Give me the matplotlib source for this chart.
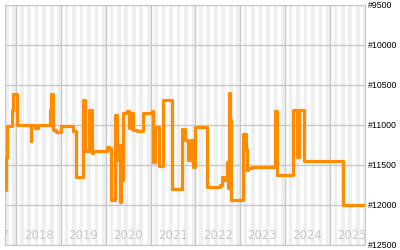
import matplotlib
matplotlib.use("Agg")
import matplotlib.pyplot as plt
import pandas as pd

# rank history (step changes), lower rank number = better
dates = ["2017-10-01", "2017-10-12", "2017-10-20", "2017-11-28", "2017-12-08",
         "2018-01-06", "2018-04-27", "2018-05-05", "2018-06-03", "2018-06-27",
         "2018-10-04", "2018-10-12", "2018-10-28", "2018-11-22", "2019-01-02",
         "2019-04-11", "2019-05-02", "2019-06-28", "2019-07-15", "2019-08-17",
         "2019-09-11", "2019-09-20", "2020-01-08", "2020-01-28", "2020-02-14",
         "2020-03-17", "2020-04-02", "2020-04-10", "2020-04-27", "2020-05-05",
         "2020-05-12", "2020-05-20", "2020-06-18", "2020-07-09", "2020-07-25",
         "2020-08-10", "2020-09-15", "2020-11-01", "2021-01-09", "2021-01-18",
         "2021-02-07", "2021-03-10", "2021-04-14", "2021-06-22", "2021-09-15",
         "2021-10-09", "2021-11-03", "2021-11-25", "2021-12-10", "2021-12-25",
         "2022-04-06", "2022-07-20", "2022-08-09", "2022-08-22", "2022-09-12",
         "2022-09-20", "2022-09-28", "2022-10-08", "2022-10-14", "2022-10-20",
         "2023-01-28", "2023-02-15", "2023-02-23", "2023-03-02", "2023-04-07",
         "2023-07-13", "2023-10-16", "2023-10-28", "2024-03-06", "2024-04-08",
         "2024-04-25", "2024-06-07", "2025-04-21", "2025-10-15"]
ranks = [11810, 11400, 11010, 10810, 10610,
         11000, 11200, 11000, 11040, 11000,
         10810, 10610, 11060, 11090, 11010,
         11070, 11650, 10690, 11320, 10810,
         11350, 11330, 11270, 11290, 11940,
         10880, 11440, 11250, 11960, 11250,
         11690, 10850, 10830, 11040, 10850,
         11060, 11070, 10855, 10830, 11460,
         11020, 11510, 10690, 11800, 11050,
         11190, 11440, 11190, 11520, 11020,
         11770, 11750, 11650, 11690, 11460,
         11790, 10600, 10710, 10940, 11940,
         11110, 11300, 11560, 11540, 11530,
         11520, 10820, 11620, 10810, 11400,
         10810, 11450, 12000, 12000]

years = list(range(2017, 2026))
y_ticks = [9500, 10000, 10500, 11000, 11500, 12000, 12500]
y_labels = ["#" + str(v) for v in y_ticks]

x = pd.to_datetime(dates)
fig = plt.figure(figsize=(4, 2.5), dpi=100)
ax = fig.add_axes([0.0125, 0.02, 0.9, 0.96])

start = pd.Timestamp("2017-10-01")
end = pd.Timestamp("2025-10-15")

# alternating month shading
m = pd.date_range("2017-10-01", "2025-11-01", freq="MS")
for a, b in zip(m[:-1], m[1:]):
    if a.month % 2 == 0:
        ax.axvspan(a, b, color="#efefef", lw=0, zorder=0)

for yr in years:
    ax.axvline(pd.Timestamp(f"{yr}-01-01"), color="#c8c8c8", lw=1, zorder=1)
    ax.text(pd.Timestamp(f"{yr}-07-02"), 0.04, str(yr), transform=ax.get_xaxis_transform(),
            ha="center", va="center", color="#c8c8c8", fontsize=8.5, clip_on=True, zorder=2)
for v in y_ticks:
    ax.axhline(v, color="#c8c8c8", lw=1, zorder=1)

ax.step(x, ranks, where="post", color="#ff8c00", lw=2.3, zorder=3)

ax.set_xlim(start, end)
ax.set_ylim(12500, 9500)
ax.set_xticks([])
ax.yaxis.tick_right()
ax.set_yticks(y_ticks)
ax.set_yticklabels(y_labels, fontsize=6.3, family="Liberation Sans")
ax.tick_params(axis="y", length=0, pad=2)
for s in ax.spines.values():
    s.set_color("#c8c8c8")

fig.savefig("out.png", dpi=100)
